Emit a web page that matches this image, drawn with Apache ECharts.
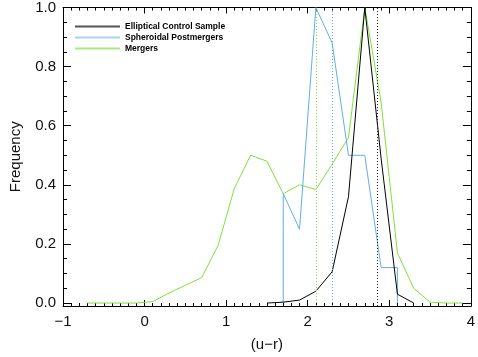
<!DOCTYPE html>
<html>
<head>
<meta charset="utf-8">
<script src="https://cdn.jsdelivr.net/npm/echarts@6/dist/echarts.min.js"></script>
<style>
  html, body { margin: 0; padding: 0; background: #fff; }
  #chart { width: 478px; height: 357px; }
</style>
</head>
<body>
<div id="chart"></div>
<script>
// histogram bin centres and normalised frequencies
var blackX = [1.5, 1.7, 1.9, 2.1, 2.3, 2.5, 2.7, 2.9, 3.1, 3.3];
var blackY = [0.0, 0.003, 0.01, 0.04, 0.106, 0.36, 1.0, 0.49, 0.03, 0.0];
var blueX = [1.7, 1.7, 1.9, 2.1, 2.3, 2.5, 2.7, 2.9, 3.1, 3.1];
var blueY = [0.0, 0.37, 0.25, 1.0, 0.88, 0.5, 0.5, 0.12, 0.12, 0.0];
var greenX = [-0.7, -0.5, -0.3, -0.1, 0.1, 0.3, 0.5, 0.7, 0.9, 1.1, 1.3, 1.5, 1.7, 1.9, 2.1, 2.3, 2.5, 2.7, 2.9, 3.1, 3.3, 3.5, 3.7, 3.9];
var greenY = [0, 0, 0, 0, 0.005, 0.034, 0.06, 0.086, 0.194, 0.387, 0.5, 0.48, 0.37, 0.4, 0.384, 0.47, 0.56, 1.0, 0.68, 0.17, 0.05, 0.003, 0, 0];
// medians (dotted lines)
var blackMed = 2.85;
var blueMed = 2.3;
var greenMed = 2.1;
var names = ['Elliptical Control Sample', 'Spheroidal Postmergers', 'Mergers'];
var yMajor = [0, 0.2, 0.4, 0.6, 0.8, 1.0];
var yMinor = [0.05, 0.1, 0.15, 0.25, 0.3, 0.35, 0.45, 0.5, 0.55, 0.65, 0.7, 0.75, 0.85, 0.9, 0.95];

var cBlack = '#000000', cBlue = '#62aee8', cGreen = '#7ee23a';

function pairs(xs, ys) {
  return xs.map(function (x, i) { return [x, ys[i]]; });
}
function medLine(v, col) {
  return {
    silent: true, symbol: 'none', label: { show: false },
    lineStyle: { type: [1, 2], color: col, width: 1 },
    data: [{ xAxis: v }]
  };
}

var axisCol = '#000';
function yAx(pos, vals, len, labels) {
  return {
    type: 'value', position: pos, min: -0.01, max: 1.0,
    axisLine: { show: true, onZero: false, lineStyle: { color: axisCol, width: 1 } },
    axisTick: { show: true, inside: true, length: len, customValues: vals, lineStyle: { color: axisCol } },
    axisLabel: labels ? {
      show: true, customValues: yMajor, margin: 7, fontSize: 15, color: '#111',
      fontFamily: 'Liberation Sans, Arial, sans-serif',
      formatter: function (v) { return v.toFixed(1); }
    } : { show: false },
    splitLine: { show: false },
    name: labels ? 'Frequency' : '', nameLocation: 'middle', nameGap: 40,
    nameTextStyle: { fontSize: 15, color: '#111', fontFamily: 'Liberation Sans, Arial, sans-serif' }
  };
}
function xAx(pos, labels) {
  return {
    type: 'value', position: pos, min: -1, max: 4, interval: 1,
    axisLine: { show: true, onZero: false, lineStyle: { color: axisCol, width: 1 } },
    axisTick: { show: true, inside: true, length: 6, lineStyle: { color: axisCol } },
    minorTick: { show: true, splitNumber: 10, length: 3, lineStyle: { color: axisCol } },
    axisLabel: labels ? {
      show: true, margin: 8, fontSize: 15, color: '#111',
      fontFamily: 'Liberation Sans, Arial, sans-serif',
      formatter: function (v) { return String(v).replace('-', '\u2212'); }
    } : { show: false },
    splitLine: { show: false },
    name: labels ? '(u\u2212r)' : '', nameLocation: 'middle', nameGap: 31,
    nameTextStyle: { fontSize: 15, color: '#111', fontFamily: 'Liberation Sans, Arial, sans-serif' }
  };
}

var chart = echarts.init(document.getElementById('chart'), null, { renderer: 'canvas' });
chart.setOption({
  animation: false,
  backgroundColor: '#fff',
  grid: { left: 56, right: 5.5, top: 4, bottom: 48 },
  legend: {
    orient: 'vertical', left: 70, top: 17, itemWidth: 45, itemHeight: 2, itemGap: 2,
    icon: 'rect',
    textStyle: { fontSize: 8.5, fontWeight: 'bold', color: '#000', fontFamily: 'Liberation Sans, Arial, sans-serif' },
    data: [
      { name: names[0], itemStyle: { color: '#555' } },
      { name: names[1], itemStyle: { color: '#a9d3f5' } },
      { name: names[2], itemStyle: { color: '#ace886' } }
    ]
  },
  xAxis: [xAx('bottom', true), xAx('top', false)],
  yAxis: [
    yAx('left', yMajor, 8, true),
    yAx('left', yMinor, 4, false),
    yAx('right', yMajor, 8, false),
    yAx('right', yMinor, 4, false)
  ],
  series: [
    {
      name: names[0], type: 'line', data: pairs(blackX, blackY), symbol: 'none',
      lineStyle: { color: cBlack, width: 1 }, itemStyle: { color: cBlack },
      markLine: medLine(blackMed, '#222'), z: 4
    },
    {
      name: names[1], type: 'line', data: pairs(blueX, blueY), symbol: 'none',
      lineStyle: { color: cBlue, width: 1 }, itemStyle: { color: cBlue },
      markLine: medLine(blueMed, cBlue), z: 3
    },
    {
      name: names[2], type: 'line', data: pairs(greenX, greenY), symbol: 'none',
      lineStyle: { color: cGreen, width: 1 }, itemStyle: { color: cGreen },
      markLine: medLine(greenMed, cGreen), z: 2
    }
  ]
});
</script>
</body>
</html>
